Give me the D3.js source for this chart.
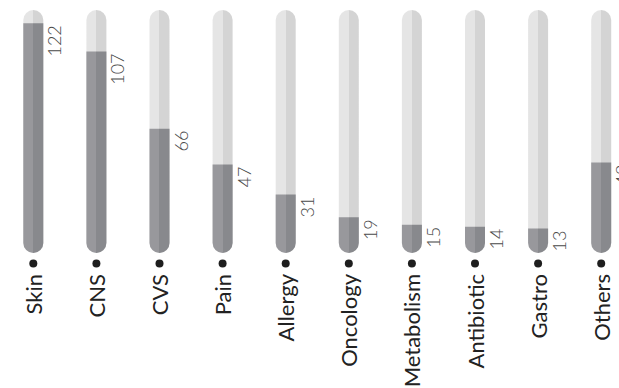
<!DOCTYPE html>
<html>
<head>
<meta charset="utf-8">
<script src="https://cdn.jsdelivr.net/npm/d3@7"></script>
<style>
  html, body { margin: 0; padding: 0; background: #fff; }
  svg { display: block; }
</style>
</head>
<body>
<svg id="chart" width="619" height="388"></svg>
<script>
// Therapy areas and their counts
const categories = ["Skin", "CNS", "CVS", "Pain", "Allergy", "Oncology", "Metabolism", "Antibiotic", "Gastro", "Others"];
const values = [122, 107, 66, 47, 31, 19, 15, 14, 13, 48];
const trackMax = 129;

const chartW = 619, chartH = 388;
const barW = 20;
const trackTop = 10, baseY = 253;

const svg = d3.select("#chart");

const x = d3.scaleBand()
  .domain(categories)
  .range([1.75, 632.75])
  .paddingInner(1 - barW / 63.1)
  .paddingOuter((1 - barW / 63.1) / 2);

const y = d3.scaleLinear().domain([0, trackMax]).range([baseY, trackTop]);

// Two-tone fills: lighter left half, darker right half
const defs = svg.append("defs");
function splitGradient(id, left, right) {
  const g = defs.append("linearGradient").attr("id", id)
    .attr("x1", "0").attr("x2", "1").attr("y1", "0").attr("y2", "0");
  g.append("stop").attr("offset", "50%").attr("stop-color", left);
  g.append("stop").attr("offset", "50%").attr("stop-color", right);
}
splitGradient("trackGrad", "#e5e5e5", "#d4d4d4");
splitGradient("fillGrad", "#98989c", "#88898d");

const rows = categories.map((c, i) => ({ cat: c, value: values[i] }));

const g = svg.append("g");

// Background tracks (rounded on both ends)
g.selectAll("rect.track").data(rows).join("rect")
  .attr("class", "track")
  .attr("x", d => x(d.cat))
  .attr("y", y(trackMax))
  .attr("width", x.bandwidth())
  .attr("height", y(0) - y(trackMax))
  .attr("rx", x.bandwidth() / 2)
  .attr("fill", "url(#trackGrad)");

// Value fills: flat top, rounded bottom
g.selectAll("path.fill").data(rows).join("path")
  .attr("class", "fill")
  .attr("d", d => {
    const x0 = x(d.cat), w = x.bandwidth(), r = w / 2;
    const yt = y(d.value), yb = y(0);
    return `M${x0},${yt}H${x0 + w}V${yb - r}A${r},${r} 0 0 1 ${x0},${yb - r}Z`;
  })
  .attr("fill", "url(#fillGrad)");

// Value labels, rotated, beside the top of each fill
g.selectAll("text.val").data(rows).join("text")
  .attr("class", "val")
  .attr("transform", d => `translate(${x(d.cat) + x.bandwidth() + 18},${y(d.value) + 2}) rotate(-90)`)
  .attr("text-anchor", "end")
  .attr("font-family", "'Lato Light', 'Lato Hairline', Lato, sans-serif")
  .attr("font-weight", 300)
  .attr("font-size", 18)
  .attr("fill", "#4a4a4a")
  .text(d => d.value);

// Bullet dots under each bar
g.selectAll("circle.dot").data(rows).join("circle")
  .attr("class", "dot")
  .attr("cx", d => x(d.cat) + x.bandwidth() / 2)
  .attr("cy", 263.5)
  .attr("r", 4)
  .attr("fill", "#1e1e1e");

// Category labels, reading upward
g.selectAll("text.cat").data(rows).join("text")
  .attr("class", "cat")
  .attr("transform", d => `translate(${x(d.cat) + x.bandwidth() / 2 + 8.5},274) rotate(-90)`)
  .attr("text-anchor", "end")
  .attr("font-family", "Lato, sans-serif")
  .attr("font-size", 22)
  .attr("fill", "#222")
  .text(d => d.cat);
</script>
</body>
</html>
